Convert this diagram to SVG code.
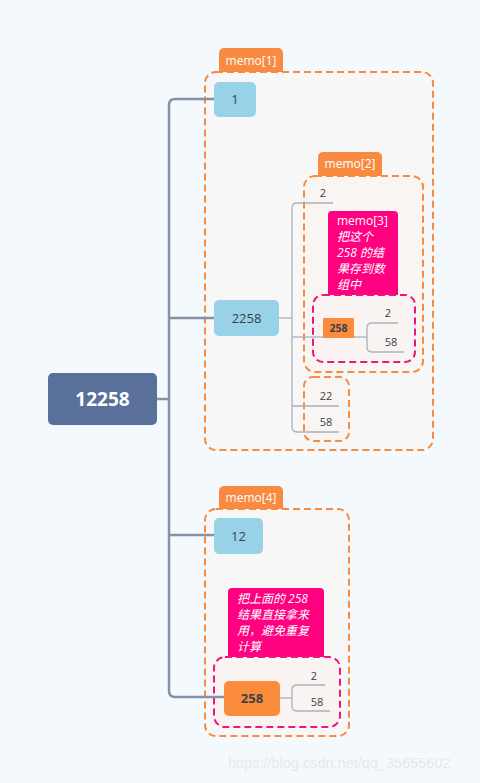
<svg xmlns="http://www.w3.org/2000/svg" width="480" height="783" viewBox="0 0 480 783">
<style>
.bg{fill:#F4F9FD}
.memo{fill:#F7F7F7;stroke:#F98A3E;stroke-width:2;stroke-dasharray:7 4}
.memo2{fill:#F8F5F2;stroke:#F98A3E;stroke-width:2;stroke-dasharray:7 4}
.pbox{fill:#F9F4F1;stroke:#EE167A;stroke-width:2;stroke-dasharray:7 4}
.tab{fill:#F98A41}
.tabt{font-family:"Open Sans","Noto Sans",sans-serif;font-size:12px;font-weight:500;fill:#fff;text-anchor:middle}
.blue{fill:#97D2E8}
.orange{fill:#FB8C3C}
.pink{fill:#FF0080}
.t{font-family:"Open Sans","Noto Sans",sans-serif;fill:#3A3F4A;text-anchor:middle}
.pt{font-family:"Open Sans","Noto Sans","Noto Sans CJK SC",sans-serif;fill:#fff;font-size:12px}
.trunk{fill:none;stroke:#8591A6;stroke-width:2.5}
.br{fill:none;stroke:#A9B1BF;stroke-width:1.3}
</style>
<rect class="bg" x="0" y="0" width="480" height="783"/>

<g id="memo1-box">
  <rect class="tab" x="219" y="48" width="64" height="27" rx="5"/>
  <text class="tabt" x="251" y="65">memo[1]</text>
  <rect class="memo" x="205" y="72" width="228" height="378" rx="11"/>
</g>
<g id="memo2-box">
  <rect class="tab" x="318" y="152" width="64" height="27" rx="5"/>
  <text class="tabt" x="350" y="168">memo[2]</text>
  <rect class="memo2" x="304" y="176" width="119" height="196" rx="11"/>
</g>
<g id="memo22-box">
  <rect class="memo2" x="304" y="377" width="45" height="64" rx="9"/>
</g>
<g id="memo4-box">
  <rect class="tab" x="219" y="486" width="64" height="26" rx="5"/>
  <text class="tabt" x="251" y="502">memo[4]</text>
  <rect class="memo" x="205" y="509" width="144" height="227" rx="11"/>
</g>
<g id="memo3-note">
  <rect class="pink" x="328" y="211" width="70" height="92" rx="4"/>
  <text class="pt" x="337" y="225">memo[3]</text>
  <text class="pt" x="337" y="241" font-style="italic">把这个</text>
  <text class="pt" x="337" y="257" font-style="italic">258 的结</text>
  <text class="pt" x="337" y="273" font-style="italic">果存到数</text>
  <text class="pt" x="337" y="289" font-style="italic">组中</text>
  <rect class="pbox" x="313" y="295" width="102" height="67" rx="10"/>
</g>
<g id="memo5-note">
  <rect class="pink" x="228" y="588" width="96" height="72" rx="4"/>
  <text class="pt" x="237" y="603" font-style="italic">把上面的 258</text>
  <text class="pt" x="237" y="619" font-style="italic">结果直接拿来</text>
  <text class="pt" x="237" y="635" font-style="italic">用，避免重复</text>
  <text class="pt" x="237" y="651" font-style="italic">计算</text>
  <rect class="pbox" x="214" y="657" width="126" height="70" rx="11"/>
</g>

<g id="connectors">
  <path class="trunk" d="M157 399 H169"/>
  <path class="trunk" d="M214 99 H175 Q169 99 169 105 V691 Q169 697 175 697 H224"/>
  <path class="trunk" d="M169 318 H214"/>
  <path class="trunk" d="M169 535 H214"/>
  <path class="br" d="M279 318 H292"/>
  <path class="br" d="M333 203 H297 Q292 203 292 208 V427 Q292 432 297 432 H339"/>
  <path class="br" d="M292 337 H323"/>
  <path class="br" d="M292 406 H339"/>
  <path class="br" d="M354 337 H367"/>
  <path class="br" d="M398 323 H372 Q367 323 367 328 V347 Q367 352 372 352 H404"/>
  <path class="br" d="M280 698 H292"/>
  <path class="br" d="M325 685 H297 Q292 685 292 690 V706 Q292 711 297 711 H330"/>
</g>

<g id="root">
  <rect x="48" y="373" width="109" height="52" rx="5" fill="#58709A"/>
  <text class="t" x="102.5" y="406" font-size="19" font-weight="bold" style="fill:#fff">12258</text>
</g>
<g id="n1">
  <rect class="blue" x="214" y="82" width="42" height="35" rx="5"/>
  <text class="t" x="235" y="104" font-size="13">1</text>
</g>
<g id="n2258">
  <rect class="blue" x="214" y="300" width="65" height="36" rx="5"/>
  <text class="t" x="246.5" y="323" font-size="13">2258</text>
</g>
<g id="n2a"><text class="t" x="323" y="197" font-size="11">2</text></g>
<g id="n258a">
  <rect class="orange" x="323" y="318" width="31" height="20"/>
  <text class="t" x="338.5" y="332" font-size="10.5" font-weight="bold">258</text>
</g>
<g id="n258a-2"><text class="t" x="388" y="317" font-size="11">2</text></g>
<g id="n258a-58"><text class="t" x="391" y="346" font-size="11">58</text></g>
<g id="n22"><text class="t" x="326" y="400" font-size="11">22</text></g>
<g id="n58"><text class="t" x="326" y="426" font-size="11">58</text></g>
<g id="n12">
  <rect class="blue" x="214" y="518" width="49" height="36" rx="5"/>
  <text class="t" x="238.5" y="541" font-size="13">12</text>
</g>
<g id="n258b">
  <rect class="orange" x="224" y="681" width="56" height="35" rx="5"/>
  <text class="t" x="252" y="703" font-size="13" font-weight="bold">258</text>
</g>
<g id="n258b-2"><text class="t" x="314" y="680" font-size="11">2</text></g>
<g id="n258b-58"><text class="t" x="317" y="706" font-size="11">58</text></g>

<text x="228" y="768" font-family="Liberation Sans, Arial, sans-serif" font-size="14.5" fill="#E3E9EF">https://blog.csdn.net/qq_35655602</text>
</svg>
